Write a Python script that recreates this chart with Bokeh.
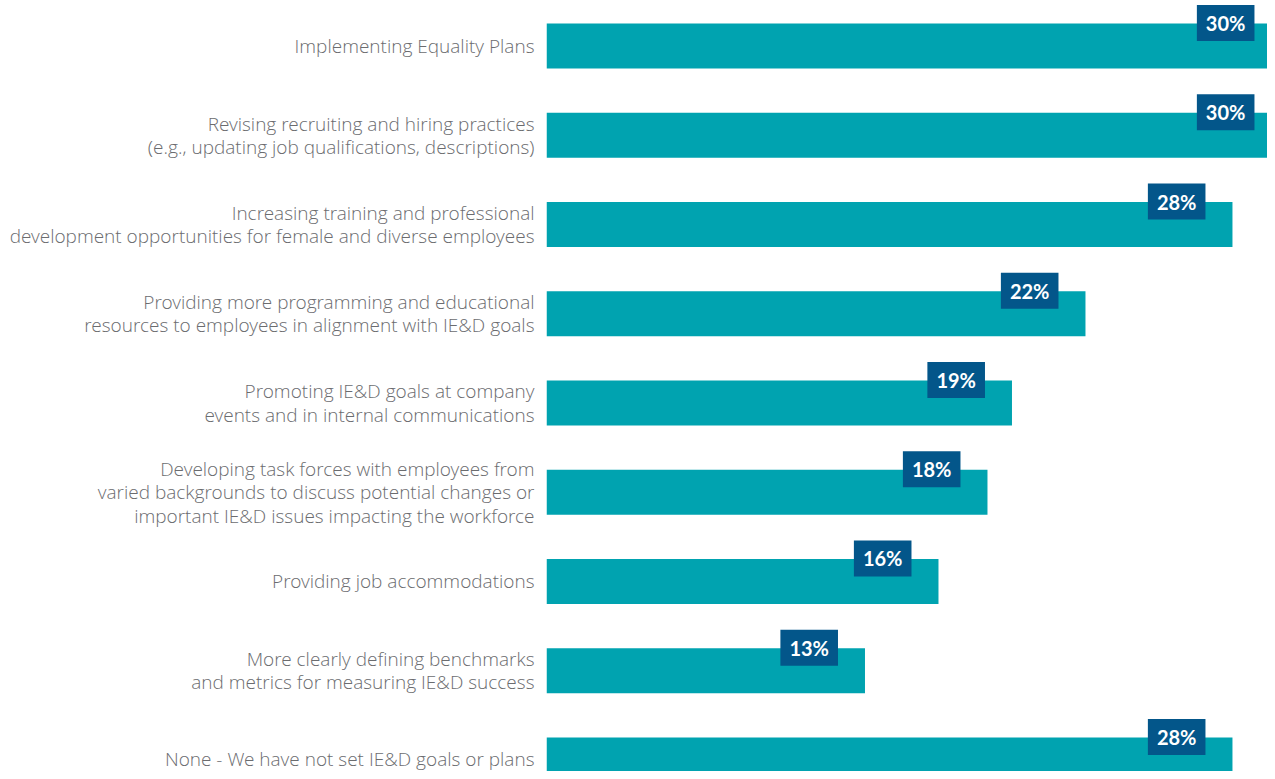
from bokeh.plotting import figure
from bokeh.models import ColumnDataSource, Range1d, FixedTicker
from bokeh.core.properties import value
from bokeh.embed import file_html
from bokeh.resources import INLINE

categories = [
    "Implementing Equality Plans",
    "Revising recruiting and hiring practices\n(e.g., updating job qualifications, descriptions)",
    "Increasing training and professional\ndevelopment opportunities for female and diverse employees",
    "Providing more programming and educational\nresources to employees in alignment with IE&D goals",
    "Promoting IE&D goals at company\nevents and in internal communications",
    "Developing task forces with employees from\nvaried backgrounds to discuss potential changes or\nimportant IE&D issues impacting the workforce",
    "Providing job accommodations",
    "More clearly defining benchmarks\nand metrics for measuring IE&D success",
    "None - We have not set IE&D goals or plans",
]
percent = [30, 30, 28, 22, 19, 18, 16, 13, 28]
value_labels = [f"{v}%" for v in percent]
positions = list(range(len(categories)))

BAR = "#00a3b0"
BOX = "#03568a"
GREY = "#6b6c6f"

src = ColumnDataSource(dict(idx=positions, pct=percent, lbl=value_labels))

p = figure(width=1267, height=771, output_backend="svg", toolbar_location=None,
           x_range=Range1d(0, 29.43), y_range=Range1d(8.129, -0.51),
           min_border_left=546, min_border_right=0, min_border_top=0, min_border_bottom=0,
           x_axis_location=None)
p.outline_line_color = None
p.xgrid.visible = False
p.ygrid.visible = False
p.background_fill_color = "white"
p.border_fill_color = "white"

p.hbar(y="idx", left=0, right="pct", height=0.504, source=src, color=BAR, line_color=None)

p.text(x="pct", y="idx", text="lbl", source=src, text_align="right", text_baseline="middle",
       x_offset=-27, y_offset=-23, text_color="white", text_font=value("Lato"),
       text_font_style="bold", text_font_size="20px",
       background_fill_color=BOX, padding=dict(left=9, right=9, top=6, bottom=6))

ax = p.yaxis[0]
ax.ticker = FixedTicker(ticks=positions)
ax.major_label_overrides = {i: c for i, c in zip(positions, categories)}
ax.axis_line_color = None
ax.major_tick_line_color = None
ax.minor_tick_line_color = None
ax.major_tick_out = 0
ax.major_tick_in = 0
ax.major_label_standoff = 12
ax.major_label_text_font = "'Open Sans Light', 'Open Sans'"
ax.major_label_text_font_size = "19px"
ax.major_label_text_color = GREY
ax.major_label_text_line_height = 0.9

open("out.html", "w").write(file_html(p, INLINE))
